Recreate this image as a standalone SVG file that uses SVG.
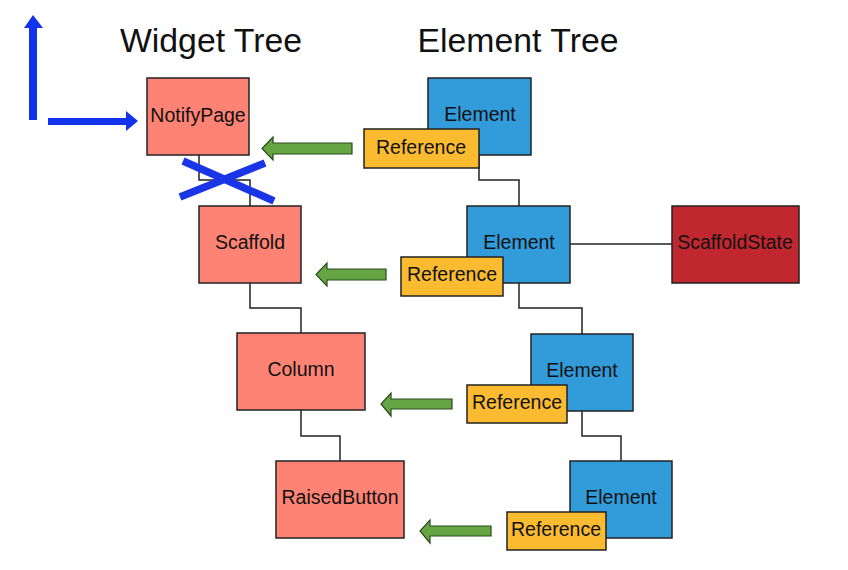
<svg xmlns="http://www.w3.org/2000/svg" width="848" height="570" viewBox="0 0 848 570">
<defs>
<style>
text{font-family:"Liberation Sans",Arial,sans-serif;fill:#111;text-anchor:middle}
.t{font-size:33.8px}
.l{font-size:19.5px}
.w{fill:#fe8375;stroke:#222;stroke-width:1.5}
.e{fill:#329bda;stroke:#222;stroke-width:1.5}
.r{fill:#fbbb30;stroke:#222;stroke-width:1.5}
.s{fill:#c1272f;stroke:#222;stroke-width:1.5}
.c{fill:none;stroke:#222;stroke-width:1.5}
.g{fill:#66a544;stroke:#2a4a1a;stroke-width:1.2}
.b{fill:#1233ee}
.x{stroke:#1a35e6;stroke-width:7.5;stroke-linecap:butt}
</style>
</defs>
<rect width="848" height="570" fill="#fff"/>
<g id="titles">
<text class="t" x="211" y="52">Widget Tree</text>
<text class="t" x="518" y="52">Element Tree</text>
</g>
<g id="connectors">
<path class="c" d="M199,155 V180 H250 V206"/>
<path class="c" d="M250,283 V308 H301 V333"/>
<path class="c" d="M301,410 V436 H340 V461"/>
<path class="c" d="M479,155 V180 H519 V206"/>
<path class="c" d="M519,283 V308 H582 V334"/>
<path class="c" d="M582,411 V436 H621 V461"/>
<path class="c" d="M570,244 H672"/>
</g>
<g id="blue-arrows">
<path class="b" d="M29,120 V28 H24 L33,15 L43,28 H37 V120 Z"/>
<path class="b" d="M48,118 H126 V111 L138,121 L126,131 V125 H48 Z"/>
</g>
<g id="NotifyPage"><rect class="w" x="147" y="78" width="102" height="77"/><text class="l" x="198" y="122">NotifyPage</text></g>
<g id="Scaffold"><rect class="w" x="199" y="206" width="102" height="77"/><text class="l" x="250" y="249">Scaffold</text></g>
<g id="Column"><rect class="w" x="237" y="333" width="128" height="77"/><text class="l" x="301" y="376">Column</text></g>
<g id="RaisedButton"><rect class="w" x="276" y="461" width="128" height="77"/><text class="l" x="340" y="504">RaisedButton</text></g>
<g id="cross">
<line class="x" x1="183" y1="161" x2="274" y2="201"/>
<line class="x" x1="180" y1="197" x2="265" y2="163"/>
</g>
<g id="Element1"><rect class="e" x="428" y="78" width="103" height="77"/><text class="l" x="480" y="121">Element</text></g>
<g id="Reference1"><rect class="r" x="364" y="129" width="115" height="39"/><text class="l" x="421" y="154">Reference</text></g>
<g id="Element2"><rect class="e" x="467" y="206" width="103" height="77"/><text class="l" x="519" y="249">Element</text></g>
<g id="Reference2"><rect class="r" x="401" y="257" width="102" height="39"/><text class="l" x="452" y="281">Reference</text></g>
<g id="ScaffoldState"><rect class="s" x="672" y="206" width="127" height="77"/><text class="l" x="735" y="249">ScaffoldState</text></g>
<g id="Element3"><rect class="e" x="531" y="334" width="102" height="77"/><text class="l" x="582" y="377">Element</text></g>
<g id="Reference3"><rect class="r" x="467" y="385" width="100" height="38"/><text class="l" x="517" y="409">Reference</text></g>
<g id="Element4"><rect class="e" x="570" y="461" width="102" height="77"/><text class="l" x="621" y="504">Element</text></g>
<g id="Reference4"><rect class="r" x="507" y="512" width="99" height="38"/><text class="l" x="556" y="536">Reference</text></g>
<g id="green-arrows">
<path class="g" d="M352,143 V154 H273 V160 L262,148.5 L273,137 V143 Z"/>
<path class="g" d="M386,269 V280 H327 V286 L316,274.5 L327,263 V269 Z"/>
<path class="g" d="M452,399 V409 H391 V416 L381,404 L391,393 V399 Z"/>
<path class="g" d="M491,526 V536 H430 V543 L420,531 L430,520 V526 Z"/>
</g>
</svg>
